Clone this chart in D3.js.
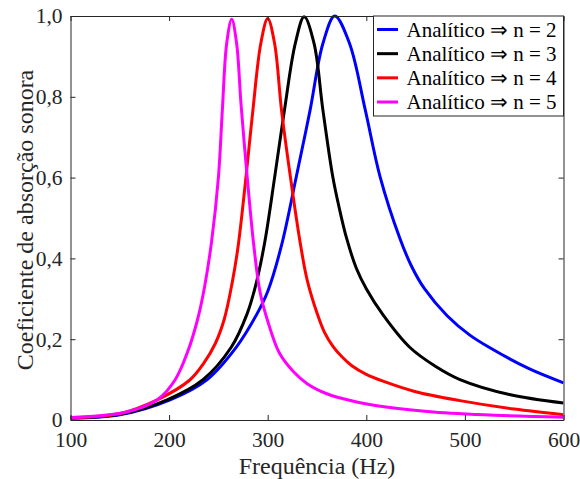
<!DOCTYPE html>
<html>
<head>
<meta charset="utf-8">
<script src="https://cdn.jsdelivr.net/npm/d3@7"></script>
</head>
<body style="margin:0">
<svg id="chart" width="580" height="479"></svg>
<script>
// Absorption coefficient curves (analytical model) for n = 2..5
const freqN2 = [100, 150, 201, 238, 268, 289, 300, 314, 329, 343, 356, 368, 383, 399, 414, 434, 446, 459, 482, 505, 528, 565, 600];
const alphaN2 = [0.005, 0.013, 0.05, 0.099, 0.18, 0.262, 0.318, 0.432, 0.602, 0.767, 0.932, 1.0, 0.932, 0.767, 0.602, 0.45, 0.38, 0.325, 0.258, 0.21, 0.175, 0.127, 0.092];

const freqN3 = [100, 150, 198, 234, 263, 279, 288, 297, 307, 317, 328, 337, 347, 356, 366, 373, 380, 390, 400, 417, 444, 470, 495, 545, 600];
const alphaN3 = [0.005, 0.014, 0.05, 0.099, 0.18, 0.262, 0.335, 0.44, 0.6, 0.767, 0.932, 0.998, 0.932, 0.767, 0.602, 0.52, 0.45, 0.375, 0.325, 0.26, 0.18, 0.133, 0.1, 0.063, 0.042];

const freqN4 = [100, 150, 188, 221, 235, 247, 256, 264, 270, 278, 285, 293, 300, 307, 314, 323, 333, 340, 350, 358, 366, 375, 385, 400, 417, 450, 495, 550, 600];
const alphaN4 = [0.006, 0.016, 0.05, 0.099, 0.14, 0.19, 0.25, 0.34, 0.43, 0.602, 0.767, 0.932, 0.994, 0.932, 0.767, 0.602, 0.438, 0.347, 0.265, 0.215, 0.183, 0.157, 0.135, 0.113, 0.096, 0.07, 0.048, 0.027, 0.013];

const freqN5 = [100, 157, 188, 206, 219, 229, 236, 243, 250, 254, 258.4, 263.5, 268.5, 273, 280, 286, 292, 300, 312, 326, 340, 360, 386, 420, 468, 530, 600];
const alphaN5 = [0.006, 0.02, 0.05, 0.099, 0.17, 0.25, 0.33, 0.44, 0.6, 0.767, 0.932, 0.992, 0.932, 0.78, 0.58, 0.43, 0.32, 0.245, 0.165, 0.12, 0.09, 0.065, 0.047, 0.032, 0.02, 0.012, 0.007];

const seriesLabels = ["Analítico \u21D2 n = 2", "Analítico \u21D2 n = 3", "Analítico \u21D2 n = 4", "Analítico \u21D2 n = 5"];
const seriesColors = ["#0000ff", "#000000", "#ff0000", "#ff00ff"];

const xTicks = [100, 200, 300, 400, 500, 600];
const yTicks = [0, 0.2, 0.4, 0.6, 0.8, 1.0];

const xLabel = "Frequência (Hz)";
const yLabel = "Coeficiente de absorção sonora";

const series = [
  { f: freqN2, a: alphaN2 },
  { f: freqN3, a: alphaN3 },
  { f: freqN4, a: alphaN4 },
  { f: freqN5, a: alphaN5 }
].map((s, i) => ({
  label: seriesLabels[i],
  color: seriesColors[i],
  points: s.f.map((f, j) => [f, s.a[j]])
}));

const svg = d3.select("#chart");
const plot = { left: 70.5, right: 563.5, top: 16, bottom: 420 };
const FONT = "'Liberation Serif'";

const x = d3.scaleLinear().domain([100, 600]).range([plot.left, plot.right]);
const y = d3.scaleLinear().domain([0, 1]).range([plot.bottom, plot.top]);

const axisColor = "#262626";
const tickLen = 5;
const fmtY = d => d === 0 ? "0" : d3.format(".1f")(d).replace(".", ",");

// clip curves to the axes box
svg.append("defs").append("clipPath").attr("id", "plotClip")
  .append("rect")
  .attr("x", plot.left).attr("y", plot.top - 2)
  .attr("width", plot.right - plot.left).attr("height", plot.bottom - plot.top + 2);

// curves
const line = d3.line()
  .x(d => x(d[0]))
  .y(d => y(d[1]))
  .curve(d3.curveCatmullRom.alpha(0.5));

svg.append("g").attr("clip-path", "url(#plotClip)")
  .selectAll("path")
  .data(series)
  .join("path")
  .attr("d", d => line(d.points))
  .attr("fill", "none")
  .attr("stroke", d => d.color)
  .attr("stroke-width", 3)
  .attr("stroke-linejoin", "round");

// axes: inward ticks on all four sides
const bottomAxis = d3.axisBottom(x).tickValues(xTicks).tickSizeInner(-tickLen).tickSizeOuter(0).tickPadding(12);
const topAxis = d3.axisTop(x).tickValues(xTicks).tickSizeInner(-tickLen).tickSizeOuter(0).tickFormat("");
const leftAxis = d3.axisLeft(y).tickValues(yTicks).tickSizeInner(-tickLen).tickSizeOuter(0).tickPadding(8).tickFormat(fmtY);
const rightAxis = d3.axisRight(y).tickValues(yTicks).tickSizeInner(-tickLen).tickSizeOuter(0).tickFormat("");

function styleAxis(g) {
  g.attr("font-family", "Liberation Serif").attr("font-size", 21.5);
  g.select(".domain").attr("stroke", axisColor).attr("stroke-width", 1);
  g.selectAll(".tick line").attr("stroke", axisColor).attr("stroke-width", 1);
  g.selectAll(".tick text")
    .attr("fill", axisColor)
    .attr("font-family", "Liberation Serif")
    .style("font-family", FONT)
    .style("font-size", "21.5px");
}

svg.append("g").attr("transform", `translate(0,${plot.bottom})`).call(bottomAxis).call(styleAxis);
svg.append("g").attr("transform", `translate(0,${plot.top})`).call(topAxis).call(styleAxis);
svg.append("g").attr("transform", `translate(${plot.left},0)`).call(leftAxis).call(styleAxis)
  .selectAll(".tick text").attr("dy", d => d === 0 ? "0.28em" : "0.32em");
svg.append("g").attr("transform", `translate(${plot.right},0)`).call(rightAxis).call(styleAxis);

// axis titles
svg.append("text")
  .attr("x", (plot.left + plot.right) / 2)
  .attr("y", 474)
  .attr("text-anchor", "middle")
  .attr("fill", axisColor)
  .attr("font-family", "Liberation Serif")
  .style("font-family", FONT)
  .style("font-size", "24px")
  .text(xLabel);

svg.append("text")
  .attr("transform", `translate(33,${(plot.top + plot.bottom) / 2 + 2}) rotate(-90)`)
  .attr("text-anchor", "middle")
  .attr("fill", axisColor)
  .attr("font-family", "Liberation Serif")
  .style("font-family", FONT)
  .style("font-size", "24px")
  .text(yLabel);

// legend
const legend = { x0: 373, x1: plot.right, y0: plot.top, y1: 116 };
const lg = svg.append("g");
lg.append("rect")
  .attr("x", legend.x0 + 0.5).attr("y", legend.y0)
  .attr("width", legend.x1 - legend.x0 - 0.5).attr("height", legend.y1 - legend.y0)
  .attr("fill", "#ffffff").attr("stroke", axisColor).attr("stroke-width", 1);

const rowY = d3.scalePoint().domain(d3.range(series.length)).range([29.5, 102]);
const rows = lg.selectAll("g.row").data(series).join("g").attr("class", "row")
  .attr("transform", (d, i) => `translate(0,${rowY(i)})`);
rows.append("line")
  .attr("x1", 377).attr("x2", 398)
  .attr("stroke", d => d.color).attr("stroke-width", 3);
rows.append("text")
  .attr("x", 406.5)
  .attr("dy", "0.35em")
  .attr("fill", "#000000")
  .attr("font-family", "Liberation Serif")
  .style("font-family", FONT)
  .style("font-size", "21px")
  .text(d => d.label);
</script>
</body>
</html>
